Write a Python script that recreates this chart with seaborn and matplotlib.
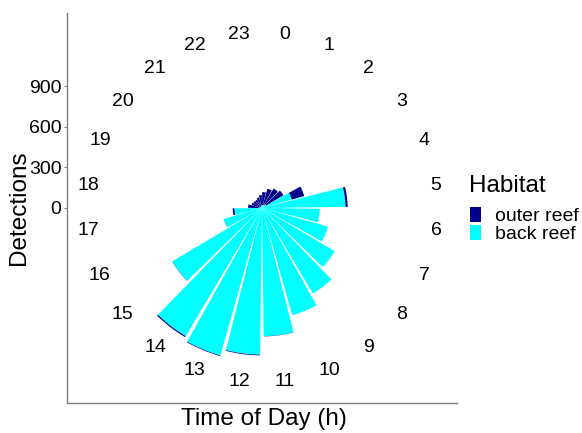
import numpy as np
import pandas as pd
import matplotlib
matplotlib.use('Agg')
import matplotlib.pyplot as plt
from matplotlib.patches import Patch
import seaborn as sns

# detections per hour of day
hours = list(range(24))
back_reef = [20, 25, 30, 35, 229, 618, 428, 508, 626, 737, 825, 949,
             1086, 1134, 1104, 772, 294, 204, 25, 15, 12, 12, 15, 18]
outer_reef = [98, 123, 138, 150, 96, 16, 0, 0, 0, 0, 0, 2,
              5, 5, 9, 2, 1, 13, 78, 66, 62, 60, 66, 78]
y_ticks = [0, 300, 600, 900]
habitats = ['outer reef', 'back reef']
colours = ['#00008B', '#00FFFF']

R_MAX = 1155  # radial limit of the plot

sns.set_style('white')
plt.rcParams['font.family'] = ['Liberation Sans', 'DejaVu Sans']
for k in ['text.color', 'axes.labelcolor', 'xtick.color', 'ytick.color']:
    plt.rcParams[k] = 'black'

df = pd.DataFrame({'hour': hours, 'back reef': back_reef, 'outer reef': outer_reef})
df['theta'] = np.deg2rad((df['hour'] + 0.5) * 15)

W, H = 582, 433
fig = plt.figure(figsize=(W / 100, H / 100), dpi=100)

# cartesian frame with the radial scale on the left
ax = fig.add_axes([67 / W, 30 / H, 390 / W, 390 / H])
r_frame = R_MAX * 195 / 156
ax.set_xlim(-r_frame, r_frame)
ax.set_ylim(-r_frame, r_frame)
ax.set_xticks([])
ax.set_yticks(y_ticks)
ax.set_yticklabels([str(t) for t in y_ticks], fontsize=14)
ax.tick_params(axis='y', direction='out', length=2.5, width=0.8, color='#7f7f7f',
               labelcolor='black', pad=1.5, left=True)
for s in ['top', 'right']:
    ax.spines[s].set_visible(False)
for s in ['left', 'bottom']:
    ax.spines[s].set_color('#7f7f7f')
    ax.spines[s].set_linewidth(1.0)
ax.set_ylabel('Detections', fontsize=17.5, va='center')
ax.yaxis.set_label_coords((19 - 67) / 390, 0.5)
ax.set_xlabel('Time of Day (h)', fontsize=17.5, va='center')
ax.xaxis.set_label_coords(0.5 + (264 - 262) / 390, (403 - 419) / 390)
ax.patch.set_alpha(0)

# polar panel, stacked bars: back reef inside, outer reef on top
axp = fig.add_axes([106 / W, 69 / H, 312 / W, 312 / H], projection='polar')
sns.barplot(data=df, x='theta', y='back reef', color=colours[1], saturation=1,
            native_scale=True, width=0.9, errorbar=None, linewidth=0, ax=axp)
sns.barplot(data=df, x='theta', y='outer reef', color=colours[0], saturation=1,
            native_scale=True, width=0.9, errorbar=None, linewidth=0,
            bottom=df['back reef'].values, ax=axp)
axp.set_theta_zero_location('N')
axp.set_theta_direction(-1)
axp.set_ylim(0, R_MAX)
axp.grid(False)
axp.set_xticks([])
axp.set_yticks([])
axp.set_xlabel('')
axp.set_ylabel('')
axp.spines['polar'].set_visible(False)
axp.patch.set_alpha(0)

r_label = R_MAX * 175.5 / 156
for h in hours:
    axp.text(np.deg2rad((h + 0.5) * 15), r_label, str(h), ha='center', va='center',
             fontsize=14, color='black', clip_on=False)

# legend: title and keys
fig.text(469 / W, 1 - 186 / H, 'Habitat', fontsize=17.5, ha='left', va='center')
handles = [Patch(facecolor=c, edgecolor='none', label=l) for c, l in zip(colours, habitats)]
fig.legend(handles=handles, loc='upper left',
           bbox_to_anchor=(470 / W, 1 - 207 / H), frameon=False,
           fontsize=14, handlelength=0.56, handleheight=0.8,
           handletextpad=0.72, labelspacing=0.0, borderpad=0, borderaxespad=0)

fig.savefig('out.png', dpi=100)
